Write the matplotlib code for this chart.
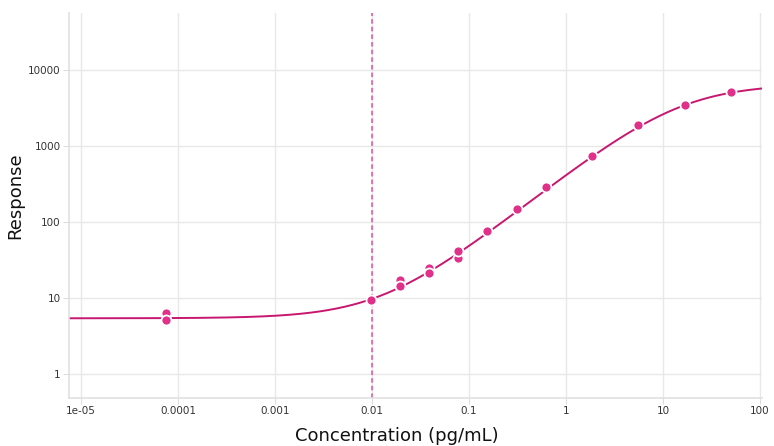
# standard curve - 4PL fit, response vs concentration
# -*- coding: utf-8 -*-

import numpy as np
import matplotlib.pyplot as plt

# measured points (concentration pg/mL, response)
conc = [7.5e-5, 7.5e-5, 0.0098, 0.0195, 0.0195, 0.039, 0.039,
        0.077, 0.077, 0.153, 0.31, 0.62, 1.85, 5.5, 16.9, 50]
resp = [6.3, 5.1, 9.3, 17.0, 14.3, 24.5, 21.0,
        33.5, 41.5, 76, 148, 290, 740, 1900, 3470, 5150]

# 4PL fit parameters
fit_bottom = 5.4
fit_top = 6500
fit_ec50 = 15.0
fit_hill = 1.0

lloq = 0.01

x_ticks = [1e-5, 1e-4, 1e-3, 1e-2, 1e-1, 1, 10, 100]
x_labels = ['1e-05', '0.0001', '0.001', '0.01', '0.1', '1', '10', '100']
y_ticks = [1, 10, 100, 1000, 10000]
y_labels = ['1', '10', '100', '1000', '10000']


def main():
    fig = plt.figure(figsize=(7.74, 4.46), dpi=100)
    ax = fig.add_axes([0.0891, 0.1076, 0.8954, 0.8633])

    xs = np.logspace(np.log10(7.5e-6), np.log10(105), 400)
    ys = fit_top + (fit_bottom - fit_top) / (1 + (xs / fit_ec50) ** fit_hill)
    ax.plot(xs, ys, color='#C8176F', lw=1.4, zorder=2)

    ax.axvline(lloq, color='#E0519A', lw=1.1, ls=(0, (3, 2)), zorder=2)

    ax.scatter(conc, resp, s=52, color='#E0308A', edgecolors='white',
               linewidths=1.3, zorder=3)

    ax.set_xscale('log')
    ax.set_yscale('log')
    ax.set_xlim(7.5e-6, 105)
    ax.set_ylim(0.483, 56000)
    ax.set_xticks(x_ticks)
    ax.set_xticklabels(x_labels)
    ax.set_yticks(y_ticks)
    ax.set_yticklabels(y_labels)
    ax.minorticks_off()
    ax.tick_params(labelsize=7.5, colors='#333333', length=4, width=0.8,
                   color='#dddddd', pad=2)

    ax.grid(True, color='#e8e8e8', lw=1)
    ax.set_axisbelow(True)
    for side in ['top', 'right']:
        ax.spines[side].set_visible(False)
    for side in ['left', 'bottom']:
        ax.spines[side].set_color('#e0e0e0')
        ax.spines[side].set_linewidth(1.2)

    ax.set_xlabel('Concentration (pg/mL)', fontsize=13, color='#111111')
    ax.set_ylabel('Response', fontsize=13, color='#111111')
    ax.xaxis.set_label_coords(0.473, -0.075)
    ax.yaxis.set_label_coords(-0.064, 0.525)

    fig.savefig('out.png', dpi=100)


if __name__ == '__main__':
    main()
